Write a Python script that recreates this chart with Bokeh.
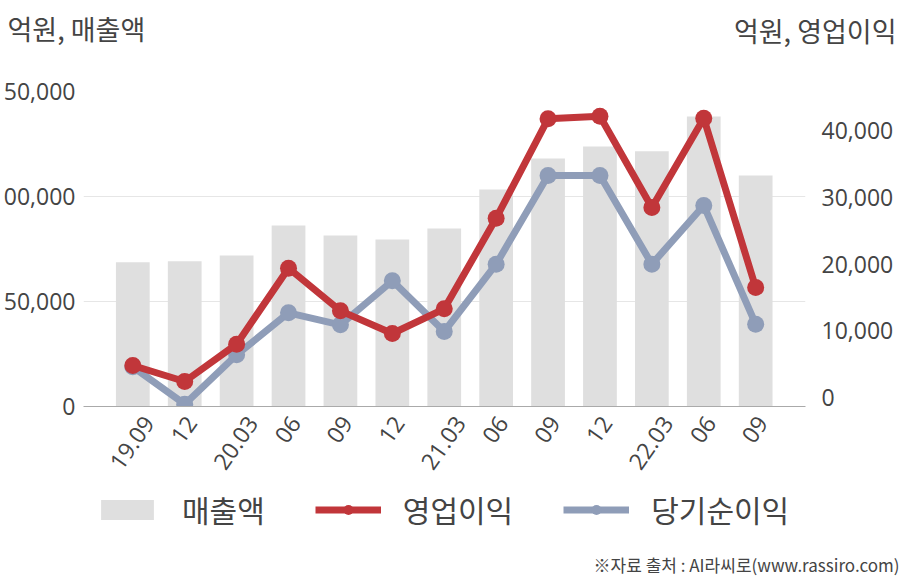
import math
from bokeh.plotting import figure
from bokeh.layouts import column
from bokeh.models import (Range1d, LinearAxis, FixedTicker, NumeralTickFormatter,
                          Label, Legend, LegendItem, ColumnDataSource)
from bokeh.embed import file_html
from bokeh.resources import INLINE

# ---- data ----
periods = ["19.09", "12", "20.03", "06", "09", "12", "21.03", "06", "09", "12", "22.03", "06", "09"]
sales = [68700, 69200, 71900, 86200, 81400, 79500, 84800, 103300, 118100, 123800, 121600, 138100, 110000]
op_profit = [4800, 2400, 8000, 19400, 13000, 9600, 13300, 26900, 41800, 42200, 28500, 41900, 16500]
net_income = [4600, -1000, 6400, 12700, 10900, 17500, 9900, 20000, 33300, 33300, 20000, 28800, 11000]
left_ticks = [0, 50000, 100000, 150000]
right_ticks = [0, 10000, 20000, 30000, 40000]
series_names = ["매출액", "영업이익", "당기순이익"]
left_title = "억원, 매출액"
right_title = "억원, 영업이익"
source_text = "※자료 출처 : AI라씨로(www.rassiro.com)"

x = list(range(len(periods)))
src = ColumnDataSource(dict(x=x, sales=sales, op=op_profit, net=net_income))

KFONT = "Noto Sans CJK KR"
NFONT = "Open Sans"
TXT = "#444444"
RED = "#C1363A"
BLUE = "#8F9DB8"
BAR = "#DFDFDF"
W = 916
XMIN, XMAX = -0.95, 12.96
FRAME_W = W - 92 - 98
LABEL_ANGLE = math.radians(55)
LABEL_PX = 23


def blank(h):
    f = figure(width=W, height=h, output_backend="svg", toolbar_location=None,
               x_range=Range1d(0, W), y_range=Range1d(0, h),
               x_axis_location=None, y_axis_location=None,
               min_border=0, min_border_left=0, min_border_right=0,
               min_border_top=0, min_border_bottom=0)
    f.xgrid.visible = False
    f.ygrid.visible = False
    f.outline_line_color = None
    f.frame_align = False
    return f


# ---- header ----
HEAD_H = 60
head = blank(HEAD_H)
head.add_layout(Label(x=20, y=32, text=left_title, text_font=KFONT, text_font_size="27px",
                      text_color=TXT, text_baseline="middle", text_align="left"))
head.add_layout(Label(x=909, y=30, text=right_title, text_font=KFONT, text_font_size="27px",
                      text_color=TXT, text_baseline="middle", text_align="right"))

# ---- main chart ----
MAIN_H = 431
p = figure(width=W, height=MAIN_H, output_backend="svg", toolbar_location=None,
           x_range=Range1d(XMIN, XMAX), y_range=Range1d(0, 150000),
           min_border_left=92, min_border_right=98, min_border_top=31, min_border_bottom=85)
p.frame_align = False
p.outline_line_color = None
p.extra_y_ranges = {"r": Range1d(-1350, 45900)}

la = p.yaxis[0]
la.ticker = FixedTicker(ticks=left_ticks)
la.formatter = NumeralTickFormatter(format="0,0")
la.axis_line_color = None
la.major_tick_line_color = None
la.minor_tick_line_color = None
la.major_label_text_font = NFONT
la.major_label_text_font_size = "23px"
la.major_label_text_color = TXT
la.major_label_standoff = 2

ra = LinearAxis(y_range_name="r", ticker=FixedTicker(ticks=right_ticks),
                formatter=NumeralTickFormatter(format="0,0"))
ra.axis_line_color = None
ra.major_tick_line_color = None
ra.minor_tick_line_color = None
ra.major_label_text_font = NFONT
ra.major_label_text_font_size = "23px"
ra.major_label_text_color = TXT
ra.major_label_standoff = 10
p.add_layout(ra, "right")


# rotated labels: shift each label so that its box is centred under its bar
def text_width(s):
    return sum((0.27 if c == "." else 0.572) for c in s) * LABEL_PX


px_per_unit = FRAME_W / (XMAX - XMIN)
label_ticks = [i + (text_width(lab) * math.cos(LABEL_ANGLE) / 2 - 1) / px_per_unit
               for i, lab in zip(x, periods)]

xa = p.xaxis[0]
xa.ticker = FixedTicker(ticks=label_ticks)
xa.major_label_overrides = {t: lab for t, lab in zip(label_ticks, periods)}
xa.axis_line_color = "#AAAAAA"
xa.major_tick_line_color = None
xa.minor_tick_line_color = None
xa.major_label_text_font = NFONT
xa.major_label_text_font_size = "23px"
xa.major_label_text_color = TXT
xa.major_label_orientation = LABEL_ANGLE
xa.major_label_standoff = 6

p.xgrid.grid_line_color = None
p.ygrid.ticker = FixedTicker(ticks=left_ticks)
p.ygrid.grid_line_color = "#E6E6E6"

p.vbar(x="x", top="sales", width=0.65, source=src, fill_color=BAR, line_color=None)
p.line("x", "net", source=src, y_range_name="r", line_color=BLUE, line_width=7)
p.scatter("x", "net", source=src, y_range_name="r", size=17, fill_color=BLUE, line_color=None)
p.line("x", "op", source=src, y_range_name="r", line_color=RED, line_width=7)
p.scatter("x", "op", source=src, y_range_name="r", size=17, fill_color=RED, line_color=None)

# ---- footer: legend + source ----
FOOT_H = 87
foot = blank(FOOT_H)
nan = float("nan")
empty = ColumnDataSource(dict(x=[nan], y=[nan]))
lb = foot.vbar(x="x", top="y", width=1, source=empty, fill_color=BAR, line_color=None)
lrl = foot.line("x", "y", source=empty, line_color=RED, line_width=7)
lrm = foot.scatter("x", "y", source=empty, size=15, fill_color=RED, line_color=None)
lbl = foot.line("x", "y", source=empty, line_color=BLUE, line_width=7)
lbm = foot.scatter("x", "y", source=empty, size=15, fill_color=BLUE, line_color=None)
legend = Legend(items=[LegendItem(label=series_names[0], renderers=[lb]),
                       LegendItem(label=series_names[1], renderers=[lrl, lrm]),
                       LegendItem(label=series_names[2], renderers=[lbl, lbm])],
                orientation="horizontal", location=(107, 47),
                glyph_width=66, glyph_height=25, label_standoff=22, spacing=50,
                padding=0, margin=0, border_line_color=None, background_fill_alpha=0,
                label_text_font=KFONT, label_text_font_size="30px", label_text_color=TXT)
foot.add_layout(legend, "center")
foot.add_layout(Label(x=912, y=14, text=source_text, text_font=KFONT, text_font_size="17px",
                      text_color=TXT, text_baseline="middle", text_align="right"))

layout = column(head, p, foot, spacing=0)
layout.styles = {"margin-left": "-13px"}

open("out.html", "w").write(file_html(layout, INLINE))
